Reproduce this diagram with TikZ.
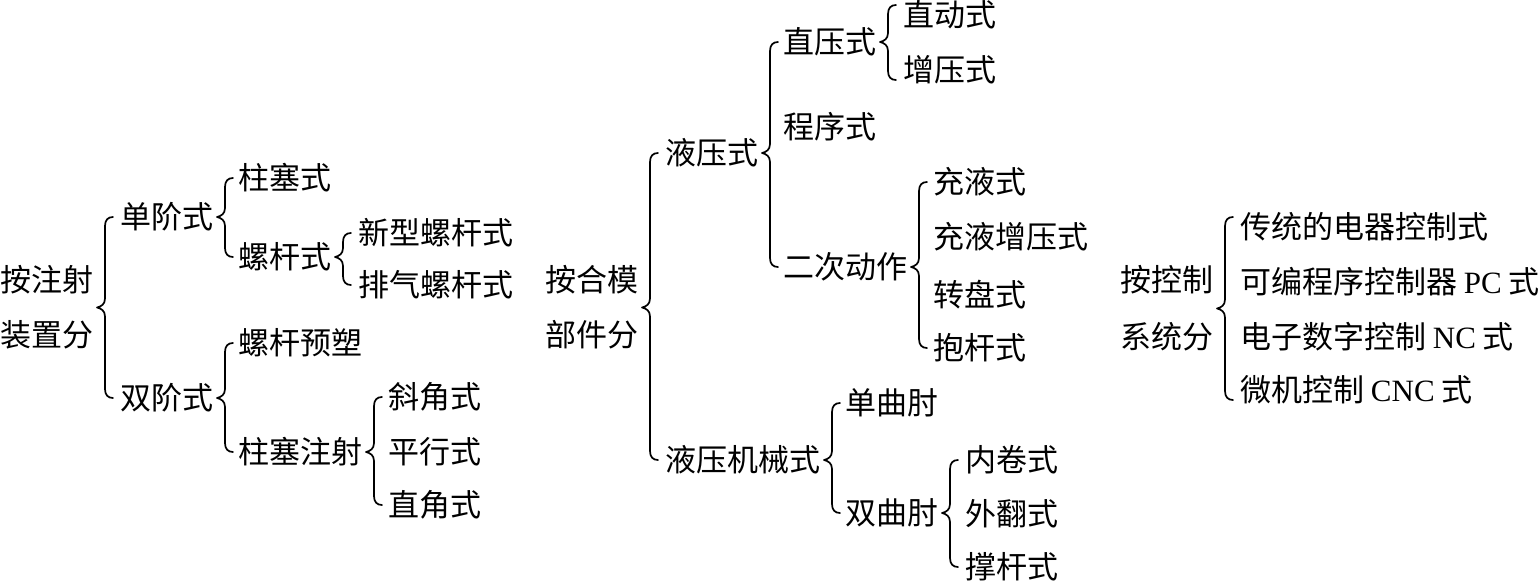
\documentclass[tikz,border=0pt]{standalone}
\usepackage{fontspec}
\setmainfont{Liberation Serif}
\newfontfamily\cjk{Noto Sans CJK SC}
\usetikzlibrary{calc}
\tikzset{
  lbl/.style={anchor=west, inner sep=0pt, outer sep=0pt, text height=27pt, text depth=4pt,
    font=\cjk\fontsize{31}{37}\selectfont},
  bracel/.style={line width=1.7pt, line cap=round, line join=round}
}
% #1 = extension, #2 = tip reference point (parent east), #3 = top child, #4 = bottom child
\newcommand{\cbrace}[4][0pt]{%
  \draw[bracel] let \p1=#2, \p2=(#3.west), \p3=(#4.west) in
    (\x1+20pt,\y2+#1) .. controls (\x1+15pt,\y2+#1) and (\x1+12pt,\y2+#1-3pt) .. (\x1+12pt,\y2+#1-9pt)
    -- (\x1+12pt,\y1+9pt) .. controls (\x1+12pt,\y1+3pt) and (\x1+8pt,\y1+1pt) .. (\x1+4pt,\y1)
    .. controls (\x1+8pt,\y1-1pt) and (\x1+12pt,\y1-3pt) .. (\x1+12pt,\y1-9pt)
    -- (\x1+12pt,\y3-#1+9pt) .. controls (\x1+12pt,\y3-#1+3pt) and (\x1+15pt,\y3-#1) .. (\x1+20pt,\y3-#1);
}
\begin{document}
\begin{tikzpicture}[x=1pt,y=-1pt]
\useasboundingbox (0,0) rectangle (1539,584);
% ---------- left group ----------
\node[lbl] (R1a) at (0,280) {按注射};
\node[lbl] (R1b) at (0,335) {装置分};
\coordinate (R1) at ($(R1a.east)!0.5!(R1b.east)$);
\node[lbl] (A1) at (120,217) {单阶式};
\node[lbl] (A2) at (120,398) {双阶式};
\node[lbl] (B1) at (238,178) {柱塞式};
\node[lbl] (B2) at (238,257) {螺杆式};
\node[lbl] (C1) at (358,233) {新型螺杆式};
\node[lbl] (C2) at (358,285) {排气螺杆式};
\node[lbl] (B3) at (238,343) {螺杆预塑};
\node[lbl] (B4) at (238,452) {柱塞注射};
\node[lbl] (C3) at (388,397) {斜角式};
\node[lbl] (C4) at (388,452) {平行式};
\node[lbl] (C5) at (388,505) {直角式};
\cbrace{(R1)}{A1}{A2}
\cbrace{(A1.east)}{B1}{B2}
\cbrace{(B2.east)}{C1}{C2}
\cbrace{(A2.east)}{B3}{B4}
\cbrace{(B4.east)}{C3}{C5}
% ---------- middle group ----------
\node[lbl] (R2a) at (545,280) {按合模};
\node[lbl] (R2b) at (545,335) {部件分};
\coordinate (R2) at ($(R2a.east)!0.5!(R2b.east)$);
\node[lbl] (M1) at (665,153) {液压式};
\node[lbl] (M2) at (665,460) {液压机械式};
\node[lbl] (N1) at (783,42) {直压式};
\node[lbl] (N2) at (783,127) {程序式};
\node[lbl] (N3) at (783,267) {二次动作};
\node[lbl] (O1) at (903,15) {直动式};
\node[lbl] (O2) at (903,70) {增压式};
\node[lbl] (O3) at (933,182) {充液式};
\node[lbl] (O4) at (933,237) {充液增压式};
\node[lbl] (O5) at (933,295) {转盘式};
\node[lbl] (O6) at (933,348) {抱杆式};
\node[lbl] (N4) at (845,403) {单曲肘};
\node[lbl] (N5) at (845,513) {双曲肘};
\node[lbl] (O7) at (965,460) {内卷式};
\node[lbl] (O8) at (965,514) {外翻式};
\node[lbl] (O9) at (965,567) {撑杆式};
\cbrace{(R2)}{M1}{M2}
\cbrace{(M1.east)}{N1}{N3}
\cbrace[10pt]{(N1.east)}{O1}{O2}
\cbrace{(N3.east)}{O3}{O6}
\cbrace{(M2.east)}{N4}{N5}
\cbrace{(N5.east)}{O7}{O9}
% ---------- right group ----------
\node[lbl] (R3a) at (1120,280) {按控制};
\node[lbl] (R3b) at (1120,337) {系统分};
\coordinate (R3) at ($(R3a.east)!0.5!(R3b.east)$);
\node[lbl] (P1) at (1240,227) {传统的电器控制式};
\node[lbl] (P2) at (1240,282) {可编程序控制器 {\rmfamily PC} 式};
\node[lbl] (P3) at (1240,337) {电子数字控制 {\rmfamily NC} 式};
\node[lbl] (P4) at (1240,390) {微机控制 {\rmfamily CNC} 式};
\cbrace[10pt]{(R3)}{P1}{P4}
\end{tikzpicture}
\end{document}
